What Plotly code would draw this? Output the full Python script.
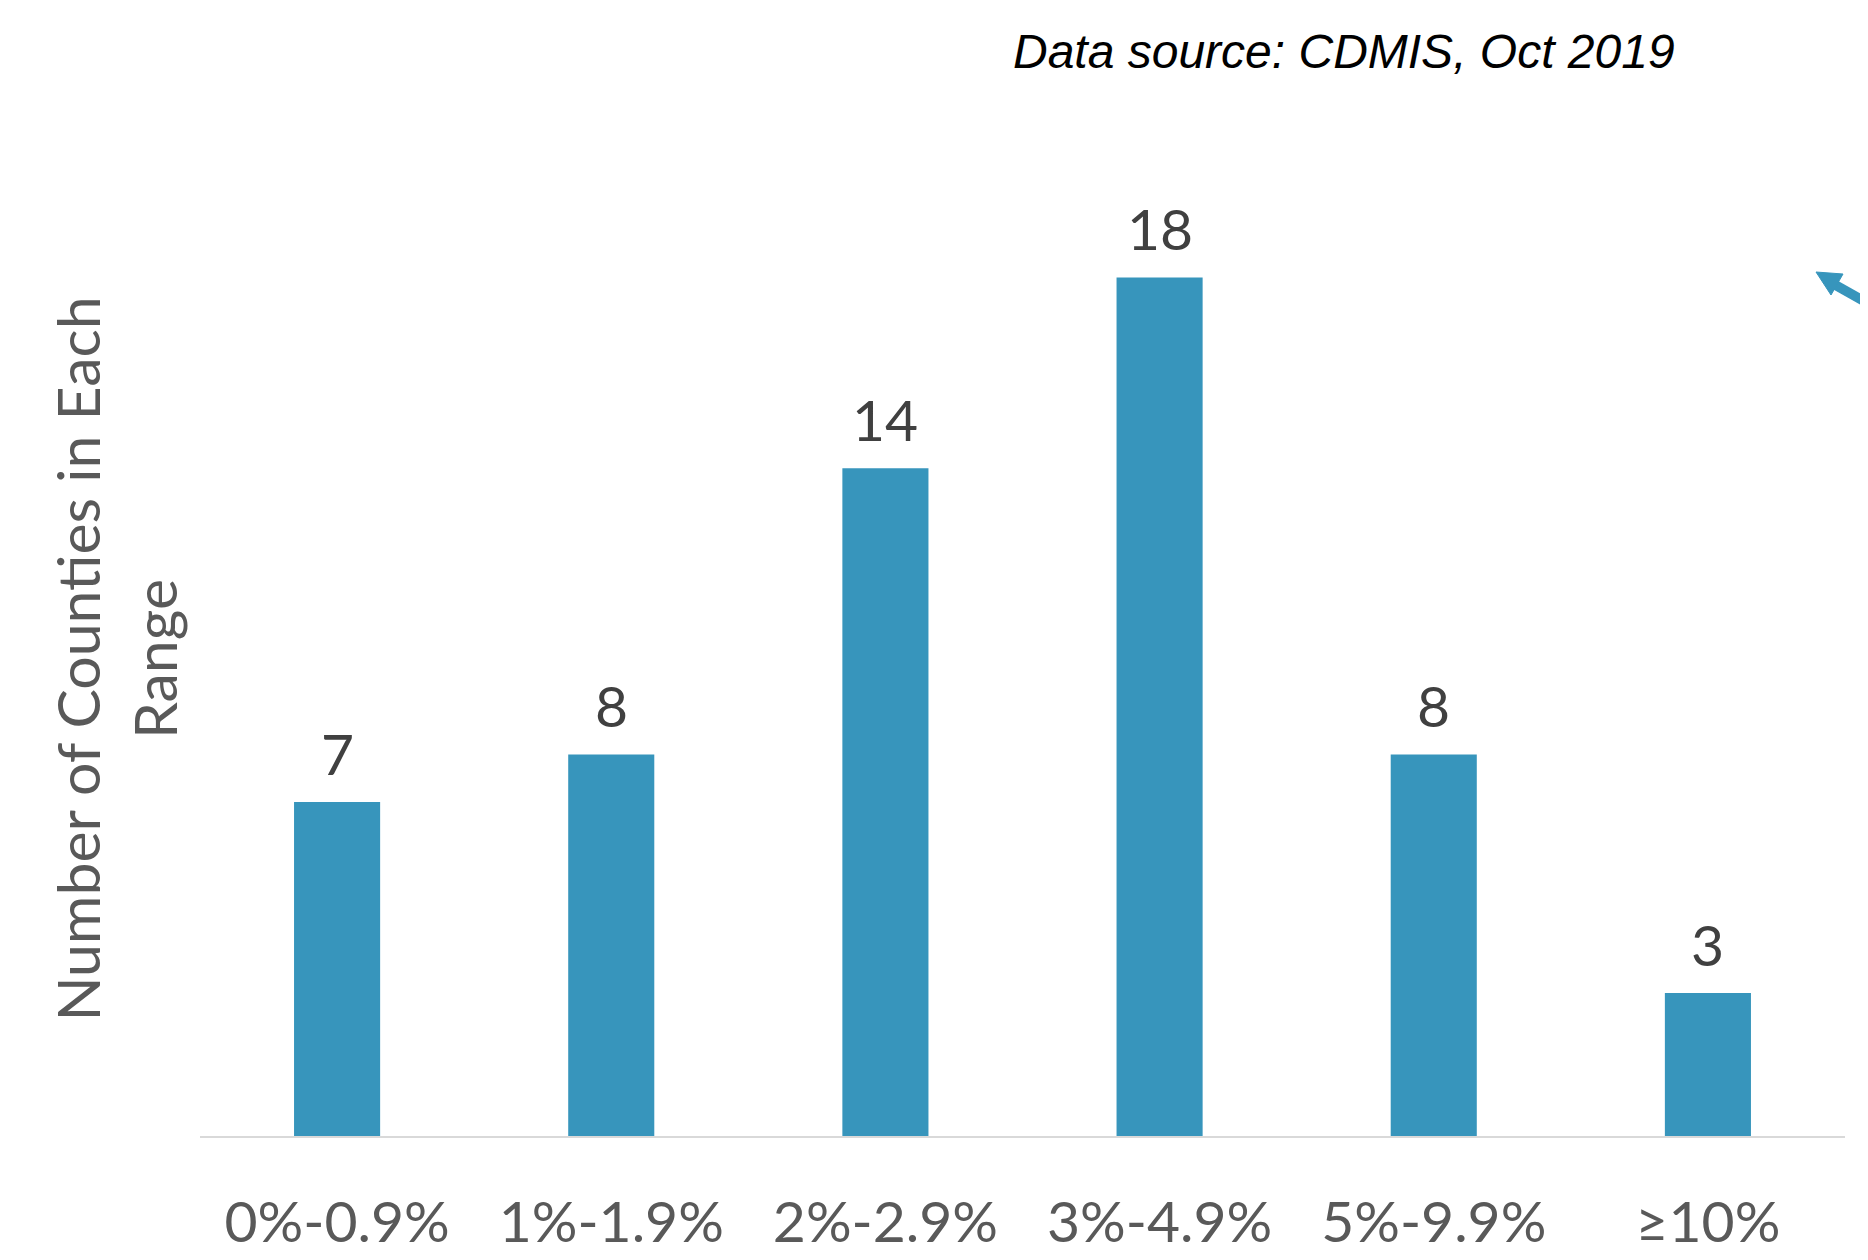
import plotly.graph_objects as go

categories = ["0%-0.9%", "1%-1.9%", "2%-2.9%", "3%-4.9%", "5%-9.9%", "≥10%"]
counts = [7, 8, 14, 18, 8, 3]

BAR = "#3795BC"
OFF = 8  # page body margin

fig = go.Figure()
fig.add_trace(go.Bar(
    x=categories, y=counts,
    marker=dict(color=BAR, line=dict(width=0)),
    width=0.314,
))

ann = [
    dict(x=c, y=v, xref="x", yref="y", text=str(v), showarrow=False,
         yanchor="middle", yshift=49,
         font=dict(family="Lato, sans-serif", size=57, color="#404040"))
    for c, v in zip(categories, counts)
]

L, T, R, B = 200 - OFF, 182 - OFF, 23 + OFF, 124 + OFF
PW, PH = 1868 - L - R, 1260 - T - B


def px(x):
    return (x - OFF - L) / PW


def py(y):
    return 1 - (y - OFF - T) / PH


ann += [
    dict(text="<i>Data source: CDMIS, Oct 2019</i>",
         xref="paper", yref="paper", x=px(1344), y=py(51),
         xanchor="center", yanchor="middle", showarrow=False,
         font=dict(family="Liberation Sans, Arial, sans-serif", size=48, color="black")),
]

# decorative pointer arrow at top right (partly cut off by the page edge)
head = [(1816, 272), (1843, 274), (1831, 295)]
head_path = "M {} {} L {} {} L {} {} Z".format(*[v for p in head for v in (px(p[0]), py(p[1]))])
shapes = [
    dict(type="line", xref="paper", yref="paper",
         x0=px(1830), y0=py(282), x1=px(1910), y1=py(327),
         line=dict(color=BAR, width=10)),
    dict(type="path", xref="paper", yref="paper", path=head_path,
         fillcolor=BAR, line=dict(color=BAR, width=1)),
]

fig.update_layout(
    width=1868, height=1260,
    margin=dict(l=L, r=R, t=T, b=B),
    plot_bgcolor="white", paper_bgcolor="white",
    showlegend=False,
    font=dict(family="Lato, sans-serif"),
    xaxis=dict(
        showgrid=False, zeroline=False,
        showline=True, linecolor="#D9D9D9", linewidth=2,
        ticks="", tickfont=dict(size=57, color="#595959"),
        ticklabelstandoff=36,
    ),
    yaxis=dict(
        range=[0, 20], showgrid=False, zeroline=False, showline=False,
        showticklabels=False, ticks="",
        title=dict(text="Number of Counties in Each<br>Range",
                   font=dict(size=59, color="#595959"), standoff=2),
    ),
    annotations=ann,
    shapes=shapes,
)

fig.write_html("out.html")
